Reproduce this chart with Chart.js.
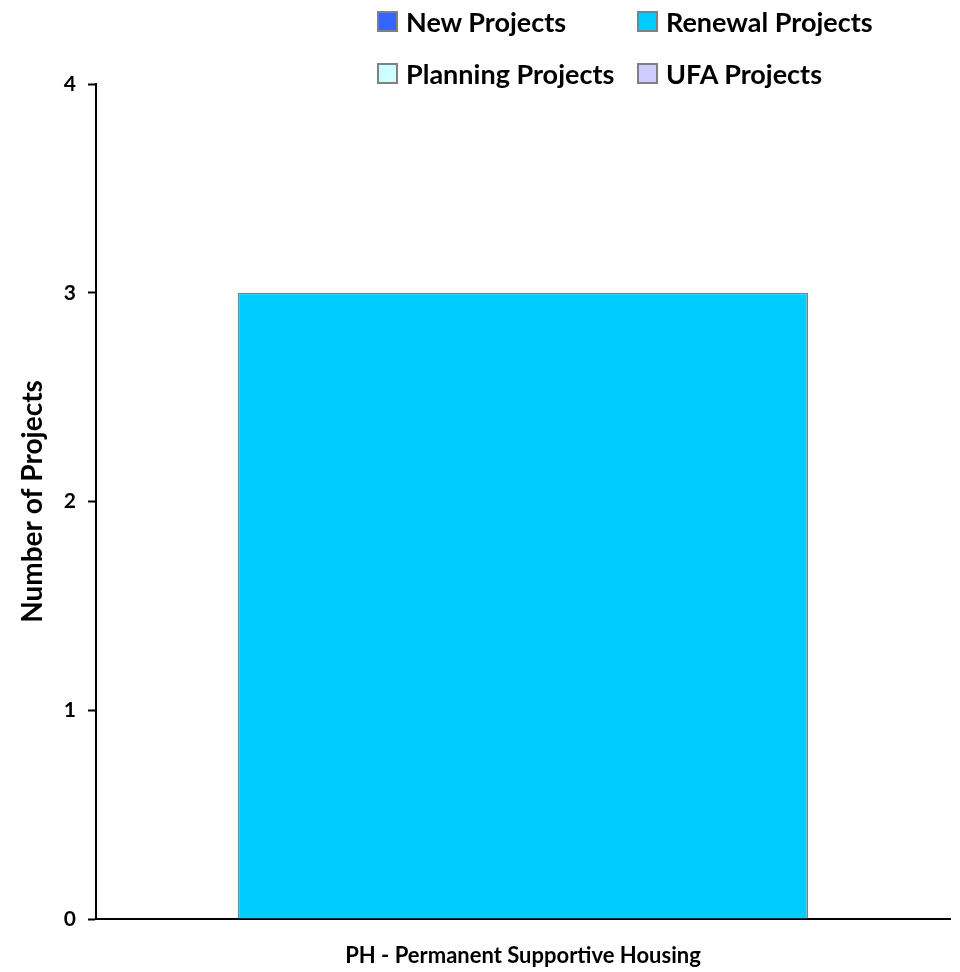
<!DOCTYPE html>
<html>
<head>
<meta charset="utf-8">
<script src="https://cdn.jsdelivr.net/npm/chart.js@4.4.0/dist/chart.umd.min.js"></script>
<style>
	html, body { margin:0; padding:0; background:#fff; }
	#wrap { position:relative; width:960px; height:972px; }
	#legend { position:absolute; left:377px; top:6px; display:grid; grid-template-columns:260px 300px; row-gap:22px;
		font-family:Lato, "Open Sans", sans-serif; font-weight:bold; font-size:27px; color:#000; }
	#legend .item { display:flex; align-items:center; height:30px; white-space:nowrap; }
	#legend .box { width:17px; height:17px; border:2px solid #808080; margin-right:8px; }
</style>
</head>
<body>
<div id="wrap">
	<canvas id="projChart" width="960" height="972"></canvas>
	<div id="legend"></div>
</div>
<script>
	// 카테고리 / 시리즈 데이터
	const categories = ['PH - Permanent Supportive Housing'];
	const seriesNames = ['New Projects', 'Renewal Projects', 'Planning Projects', 'UFA Projects'];
	const newProjects = [0];
	const renewalProjects = [3];
	const planningProjects = [0];
	const ufaProjects = [0];
	const yTicks = [0, 1, 2, 3, 4];

	const seriesColors = ['#3366FF', '#00CCFF', '#CCFFFF', '#CCCCFF'];
	const seriesData = [newProjects, renewalProjects, planningProjects, ufaProjects];

	let datasets = seriesNames.map((name, i) => ({
		label : name,
		data : seriesData[i],
		backgroundColor : seriesColors[i],
		borderColor : '#808080',
		borderWidth : 1.5,
		borderSkipped : 'bottom',
		categoryPercentage : 1,
		barPercentage : 0.668
	}));

	// 범례 (2열)
	let legendHtml = '';
	seriesNames.forEach((name, i) => {
		legendHtml += `<div class="item"><span class="box" style="background:${seriesColors[i]}"></span>${name}</div>`;
	});
	document.getElementById('legend').innerHTML = legendHtml;

	const fontFamily = 'Lato, "Open Sans", sans-serif';

	new Chart(document.getElementById('projChart'), {
		type : 'bar',
		data : { labels : categories, datasets : datasets },
		options : {
			responsive : false,
			maintainAspectRatio : false,
			animation : { duration : 0 },
			layout : { padding : { top : 84, right : 10, left : 0, bottom : 0 } },
			plugins : {
				legend : { display : false },
				tooltip : { enabled : false }
			},
			scales : {
				x : {
					stacked : true,
					grid : { display : false },
					border : { color : '#000', width : 2 },
					ticks : {
						color : '#000',
						padding : 16,
						font : { family : fontFamily, size : 22, weight : 'bold' }
					},
					afterFit : (scale) => { scale.height = 53; }
				},
				y : {
					stacked : true,
					min : 0,
					max : 4,
					afterBuildTicks : (scale) => { scale.ticks = yTicks.map(v => ({ value : v })); },
					grid : {
						drawOnChartArea : false,
						drawTicks : true,
						tickLength : 8,
						tickWidth : 2,
						color : '#000'
					},
					border : { color : '#000', width : 2 },
					ticks : {
						color : '#000',
						padding : 12,
						font : { family : fontFamily, size : 21, weight : 'bold' }
					},
					title : {
						display : true,
						text : 'Number of Projects',
						color : '#000',
						padding : { top : 16, bottom : 0 },
						font : { family : fontFamily, size : 28, weight : 'bold' }
					},
					afterFit : (scale) => { scale.width = 96; }
				}
			}
		}
	});
</script>
</body>
</html>
